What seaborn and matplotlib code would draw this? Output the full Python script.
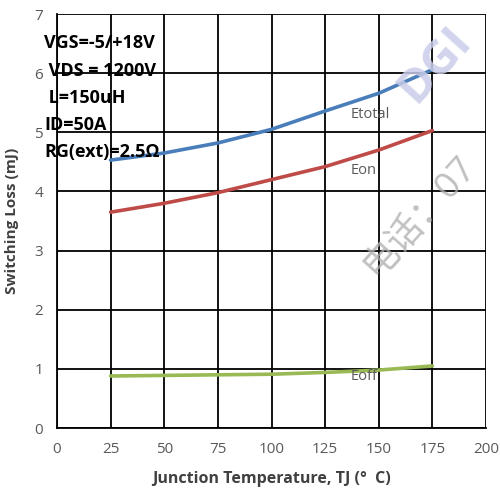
import matplotlib
matplotlib.use("Agg")
import matplotlib.pyplot as plt
import seaborn as sns
import pandas as pd

# Junction temperature (°C) and switching losses (mJ)
tj = [25, 50, 75, 100, 125, 150, 175]
etotal = [4.53, 4.65, 4.82, 5.05, 5.36, 5.66, 6.06]
eon = [3.65, 3.80, 3.98, 4.20, 4.42, 4.70, 5.03]
eoff = [0.88, 0.89, 0.90, 0.91, 0.94, 0.98, 1.05]

series_names = ["Etotal", "Eon", "Eoff"]
series_colors = ["#4A7EBB", "#BE4B48", "#98B954"]
conditions = ["VGS=-5/+18V", " VDS = 1200V", " L=150uH", "ID=50A", "RG(ext)=2.5Ω"]
xticks = [0, 25, 50, 75, 100, 125, 150, 175, 200]
yticks = [0, 1, 2, 3, 4, 5, 6, 7]

df = pd.concat([
    pd.DataFrame({"TJ": tj, "E": vals, "series": name})
    for name, vals in zip(series_names, [etotal, eon, eoff])
])

sns.set_theme(style="white")
plt.rcParams["font.family"] = ["Open Sans", "Noto Sans CJK SC", "DejaVu Sans"]

fig = plt.figure(figsize=(5.0, 4.92), dpi=100)
ax = fig.add_axes([0.114, 0.130, 0.858, 0.8415])

sns.lineplot(data=df, x="TJ", y="E", hue="series", hue_order=series_names,
             palette=series_colors, linewidth=2.6, legend=False, ax=ax, zorder=3)

ax.set_xlim(0, 200)
ax.set_ylim(0, 7)
ax.set_xticks(xticks)
ax.set_yticks(yticks)
ax.grid(True, color="black", linewidth=1.3, zorder=1)
ax.set_axisbelow(True)
for sp in ax.spines.values():
    sp.set_visible(False)
for side in ("left", "bottom"):
    ax.spines[side].set_visible(True)
    ax.spines[side].set_color("black")
    ax.spines[side].set_linewidth(1.3)
ax.tick_params(axis="both", colors="#595959", labelsize=11, length=0, pad=10)
ax.tick_params(axis="y", length=3, color="black", pad=7)

ax.set_xlabel("Junction Temperature, TJ (°  C)", fontsize=11.5, fontweight="bold",
              color="#404040", labelpad=10)
ax.set_ylabel("Switching Loss (mJ)", fontsize=11, fontweight="bold",
              color="#404040", labelpad=11)

# curve labels
for name, y in zip(series_names, [5.25, 4.3, 0.82]):
    ax.text(137, y, name, fontsize=10.5, color="#595959", zorder=4)

# test conditions
for i, line in enumerate(conditions):
    ax.text(-6, 6.42 - i * 0.46, line, fontsize=13, fontweight="bold",
            color="black", zorder=4)

# faint watermark
fig.text(0.87, 0.87, "DGI", fontsize=34, fontweight="bold", color="#c9cde9",
         rotation=48, ha="center", va="center", alpha=0.85, zorder=0)
fig.text(0.84, 0.56, "电话：07", fontsize=26, color="#b0b0b0",
         rotation=48, ha="center", va="center", alpha=0.8, zorder=0)

fig.savefig("out.png", dpi=100)
